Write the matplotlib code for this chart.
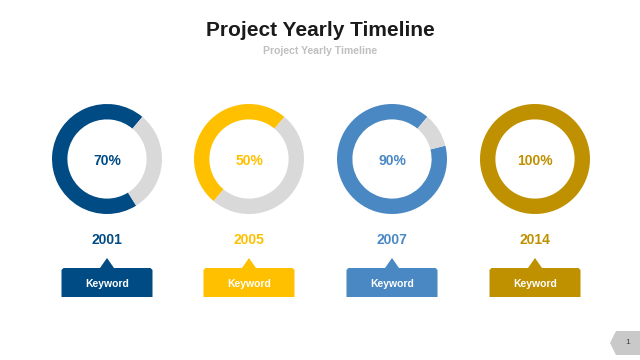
import matplotlib.pyplot as plt
from matplotlib.patches import Polygon

plt.rcParams['font.family'] = ['Liberation Sans', 'DejaVu Sans']

# Data
years = ['2001', '2005', '2007', '2014']
percent = [70, 50, 90, 100]
labels = ['Keyword', 'Keyword', 'Keyword', 'Keyword']
colors = ['#014b85', '#ffc000', '#4a88c3', '#bf9000']
track = '#d9d9d9'

W, H = 640, 360
centers_x = [107, 249, 392, 535]
cy = 159
r_px = 55

fig = plt.figure(figsize=(6.4, 3.6), dpi=100)
ax = fig.add_axes([0, 0, 1, 1])
ax.set_xlim(0, W)
ax.set_ylim(H, 0)
ax.axis('off')

ax.text(320, 31, 'Project Yearly Timeline', ha='center', va='center',
        fontsize=15, fontweight='bold', color='#1a1a1a')
ax.text(320, 51, 'Project Yearly Timeline', ha='center', va='center',
        fontsize=7.5, fontweight='bold', color='#bfbfbf')

for cx, p, yr, lab, c in zip(centers_x, percent, years, labels, colors):
    # donut
    pax = fig.add_axes([(cx - r_px) / W, 1 - (cy + r_px) / H,
                        2 * r_px / W, 2 * r_px / H])
    pax.pie([p, 100 - p], colors=[c, track], startangle=50,
            counterclock=True, wedgeprops=dict(width=0.28, linewidth=0))
    pax.set_xlim(-1, 1)
    pax.set_ylim(-1, 1)
    pax.set_aspect('equal')
    pax.axis('off')

    ax.text(cx, cy + 2, f'{p}%', ha='center', va='center',
            fontsize=10, fontweight='bold', color=c)
    ax.text(cx, 240, yr, ha='center', va='center',
            fontsize=10, fontweight='bold', color=c)

    # keyword callout box
    x0, x1 = cx - 45.5, cx + 45.5
    y0, y1 = 268, 297
    pts = [(x0, y1), (x0, y0 + 2), (x0 + 2, y0), (cx - 7, y0), (cx, 258),
           (cx + 7, y0), (x1 - 2, y0), (x1, y0 + 2), (x1, y1)]
    ax.add_patch(Polygon(pts, closed=True, facecolor=c, edgecolor='none'))
    ax.text(cx, 284, lab, ha='center', va='center',
            fontsize=7.5, fontweight='bold', color='white')

# page number
pg = [(640, 331), (616, 331), (610, 343), (616, 355), (640, 355)]
ax.add_patch(Polygon(pg, closed=True, facecolor='#c9c9c9', edgecolor='none'))
ax.text(628, 343, '1', ha='center', va='center', fontsize=6, color='#404040')

fig.savefig('out.png', dpi=100)
